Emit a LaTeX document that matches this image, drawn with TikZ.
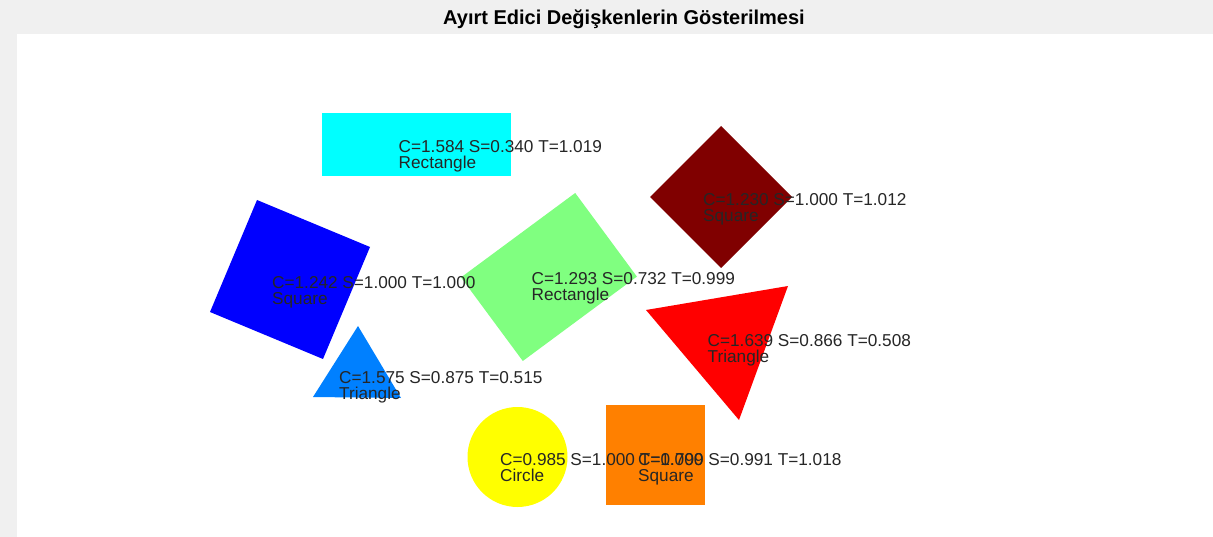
\documentclass[tikz,border=0pt]{standalone}
\usepackage{fontspec}
\setmainfont{Liberation Sans}
\definecolor{figgray}{HTML}{F0F0F0}
\definecolor{lbl}{HTML}{262626}
\definecolor{cCyan}{HTML}{00FFFF}
\definecolor{cMaroon}{HTML}{800000}
\definecolor{cBlue}{HTML}{0000FF}
\definecolor{cGreen}{HTML}{80FF80}
\definecolor{cRed}{HTML}{FF0000}
\definecolor{cAzure}{HTML}{0080FF}
\definecolor{cYellow}{HTML}{FFFF00}
\definecolor{cOrange}{HTML}{FF8000}
\tikzset{
  lab/.style={anchor=base west, inner sep=0pt, text=lbl, font=\fontsize{17.2}{17}\selectfont},
  ttl/.style={anchor=base, inner sep=0pt, text=black, font=\fontsize{20}{20}\selectfont\bfseries},
}
\begin{document}
\begin{tikzpicture}[x=1pt,y=-1pt]
\useasboundingbox (0,0) rectangle (1213,537);
\fill[figgray] (0,0) rectangle (1213,537);
\fill[white] (17,34) rectangle (1213,537);
\node[ttl] (title) at (624,24.5) {Ayırt Edici Değişkenlerin Gösterilmesi};
% shapes
\fill[cCyan] (322,113) rectangle (511,176);
\fill[cMaroon] (721,126) -- (792,197) -- (721,268) -- (650,197) -- cycle;
\fill[cBlue] (257,200) -- (370,247) -- (323,359) -- (210,312) -- cycle;
\fill[cGreen] (575.2,193) -- (636.9,276.6) -- (522.8,361) -- (461,277.4) -- cycle;
\fill[cRed] (646,310) -- (788,286) -- (739,420) -- cycle;
\fill[cAzure] (358,326) -- (401,398) -- (313,397) -- cycle;
\fill[cYellow] (517.5,457) circle (50);
\fill[cOrange] (606,405) rectangle (705,505);
% labels
\node[lab] (a1) at (398.5,152.5) {C=1.584 S=0.340 T=1.019};
\node[lab] (a2) at (398.5,168.5) {Rectangle};
\node[lab] (b1) at (703,206) {C=1.230 S=1.000 T=1.012};
\node[lab] (b2) at (703,222) {Square};
\node[lab] (c1) at (272,288.5) {C=1.242 S=1.000 T=1.000};
\node[lab] (c2) at (272,304.5) {Square};
\node[lab] (d1) at (531.5,285) {C=1.293 S=0.732 T=0.999};
\node[lab] (d2) at (531.5,301) {Rectangle};
\node[lab] (e1) at (707.5,346.5) {C=1.639 S=0.866 T=0.508};
\node[lab] (e2) at (707.5,362.5) {Triangle};
\node[lab] (f1) at (339,383) {C=1.575 S=0.875 T=0.515};
\node[lab] (f2) at (339,399) {Triangle};
\node[lab] (g1) at (500,465) {C=0.985 S=1.000 T=1.000};
\node[lab] (g2) at (500,481) {Circle};
\node[lab] (h1) at (638,465) {C=0.799 S=0.991 T=1.018};
\node[lab] (h2) at (638,481) {Square};
\end{tikzpicture}
\end{document}
